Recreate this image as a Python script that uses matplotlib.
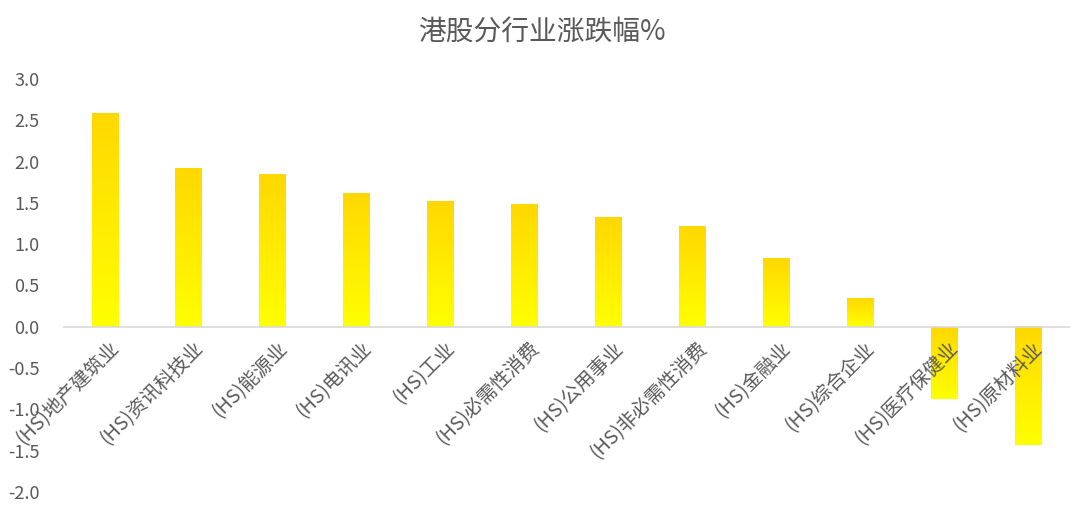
import numpy as np
import matplotlib
matplotlib.use('Agg')
import matplotlib.pyplot as plt
from matplotlib.colors import LinearSegmentedColormap
from matplotlib.transforms import offset_copy

plt.rcParams['font.family'] = ['Noto Sans CJK SC', 'DejaVu Sans']

title = '港股分行业涨跌幅%'
categories = ['(HS)地产建筑业', '(HS)资讯科技业', '(HS)能源业', '(HS)电讯业', '(HS)工业',
              '(HS)必需性消费', '(HS)公用事业', '(HS)非必需性消费', '(HS)金融业',
              '(HS)综合企业', '(HS)医疗保健业', '(HS)原材料业']
values = [2.59, 1.92, 1.85, 1.62, 1.52, 1.48, 1.32, 1.22, 0.83, 0.35, -0.87, -1.43]
yticks = [3.0, 2.5, 2.0, 1.5, 1.0, 0.5, 0.0, -0.5, -1.0, -1.5, -2.0]

text_color = '#595959'
# gold at the top of each bar, bright yellow at the bottom
cmap = LinearSegmentedColormap.from_list('gold', ['#FFFF00', '#FFD800'])
grad = np.linspace(0, 1, 256).reshape(-1, 1)

fig = plt.figure(figsize=(10.83, 5.13), dpi=100)
ax = fig.add_axes([63 / 1083, 1 - 492 / 513, (1070 - 63) / 1083, (492 - 79) / 513])

width = 0.32
for i, v in enumerate(values):
    lo, hi = min(0, v), max(0, v)
    ax.imshow(grad, extent=[i - width / 2, i + width / 2, lo, hi], origin='lower',
              cmap=cmap, aspect='auto', interpolation='bilinear', zorder=2)

ax.axhline(0, color='#d9d9d9', lw=1.2, zorder=3)

ax.set_xlim(-0.5, len(values) - 0.5)
ax.set_ylim(-2.0, 3.0)
ax.set_yticks(yticks)
ax.set_yticklabels([f'{t:.1f}' for t in yticks], fontsize=13, color=text_color)
ax.tick_params(axis='y', length=0, pad=17)
ax.set_xticks([])
for s in ax.spines.values():
    s.set_visible(False)

for i, name in enumerate(categories):
    tr = offset_copy(ax.transData, fig=fig, x=4, y=-11, units='dots')
    ax.text(i, 0, name, transform=tr, rotation=45, rotation_mode='anchor',
            ha='right', va='top', fontsize=14, color=text_color, zorder=4)

fig.text(0.5, 1 - 33 / 513, title, ha='center', va='center', fontsize=20, color=text_color)

fig.savefig('out.png', dpi=100)
